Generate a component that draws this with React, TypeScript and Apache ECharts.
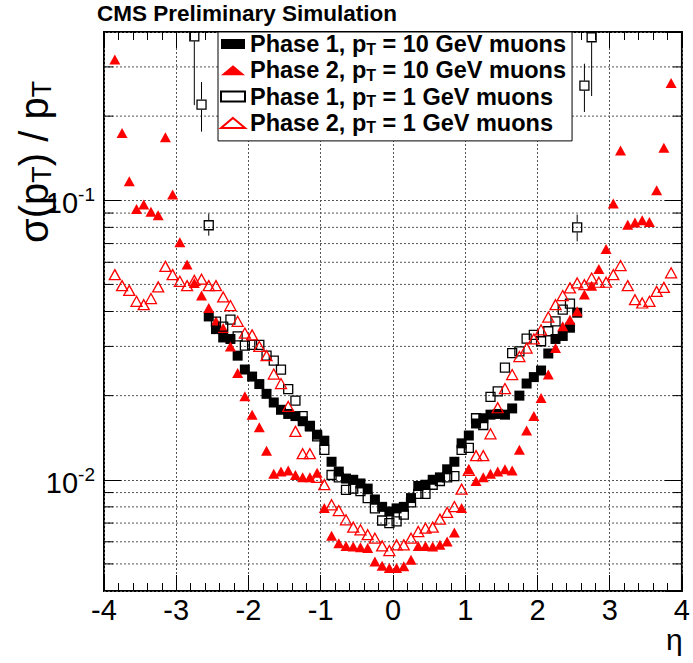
import { useEffect, useRef } from 'react';
import * as echarts from 'echarts';

const FONT = '"Liberation Sans", Arial, Helvetica, sans-serif';

// eta bin centres (wide range, used by Phase 2)
const ETA_WIDE = [
  -3.85, -3.75, -3.65, -3.55, -3.45, -3.35, -3.25, -3.15, -3.05,
  -2.95, -2.85, -2.75, -2.65, -2.55, -2.45, -2.35, -2.25, -2.15, -2.05,
  -1.95, -1.85, -1.75, -1.65, -1.55, -1.45, -1.35, -1.25, -1.15, -1.05,
  -0.95, -0.85, -0.75, -0.65, -0.55, -0.45, -0.35, -0.25, -0.15, -0.05,
  0.05, 0.15, 0.25, 0.35, 0.45, 0.55, 0.65, 0.75, 0.85, 0.95,
  1.05, 1.15, 1.25, 1.35, 1.45, 1.55, 1.65, 1.75, 1.85, 1.95,
  2.05, 2.15, 2.25, 2.35, 2.45, 2.55, 2.65, 2.75, 2.85, 2.95,
  3.05, 3.15, 3.25, 3.35, 3.45, 3.55, 3.65, 3.75, 3.85,
];
// Phase 1 eta ranges
const ETA_P1_10 = ETA_WIDE.slice(13, 65); // -2.55 .. 2.55
const ETA_P1_1 = ETA_WIDE.slice(11, 67); // -2.75 .. 2.75

const NAMES = [
  'Phase 1, p_T = 10 GeV muons',
  'Phase 2, p_T = 10 GeV muons',
  'Phase 1, p_T = 1 GeV muons',
  'Phase 2, p_T = 1 GeV muons',
];

const PHASE1_10 = [
  0.0384, 0.0346, 0.0323, 0.0319, 0.0278, 0.0248,
  0.0234, 0.0220, 0.0203, 0.0189, 0.0178, 0.0172, 0.0169, 0.0162, 0.0155, 0.0145,
  0.0138, 0.0116, 0.0107, 0.0101, 0.0100, 0.0097, 0.0093, 0.0085, 0.0080, 0.0077,
  0.0079, 0.0080, 0.0086, 0.0095, 0.0096, 0.0100, 0.0102, 0.0109, 0.0116, 0.0135,
  0.0144, 0.0159, 0.0166, 0.0171, 0.0172, 0.0171, 0.0180, 0.0200, 0.0221, 0.0233,
  0.0246, 0.0283, 0.0319, 0.0327, 0.0350, 0.0396,
];

const PHASE2_10 = [
  0.319, 0.174, 0.117, 0.0931, 0.0965, 0.0910, 0.0884, 0.168, 0.1048,
  0.0707, 0.0589, 0.0506, 0.0456, 0.0412, 0.0369, 0.0349, 0.0300, 0.0241, 0.0199,
  0.0171, 0.0154, 0.0127, 0.0105, 0.0107, 0.0108, 0.0104, 0.0102, 0.0102, 0.0106,
  0.00792, 0.0063, 0.00593, 0.0058, 0.00577, 0.00573, 0.0057, 0.0051, 0.00493, 0.00483,
  0.00483, 0.0049, 0.00517, 0.0058, 0.0058, 0.00577, 0.00585, 0.00601, 0.00648, 0.00792,
  0.0109, 0.0099, 0.0102, 0.0105, 0.0107, 0.0109, 0.0108, 0.0128, 0.0150, 0.0169,
  0.0196, 0.0238, 0.0296, 0.0354, 0.0374, 0.0401, 0.0460, 0.0495, 0.0568, 0.0670,
  0.0973, 0.1507, 0.0818, 0.0833, 0.0848, 0.0836, 0.1086, 0.154, 0.263,
];

const PHASE1_1 = [
  0.386, 0.220, 0.0814, 0.0368, 0.0353, 0.0374, 0.0326, 0.0302,
  0.0304, 0.0304, 0.0278, 0.0267, 0.0248, 0.0211, 0.0192, 0.0169, 0.0156, 0.0143,
  0.0128, 0.0104, 0.0102, 0.0092, 0.0093, 0.0091, 0.0086, 0.0079, 0.00715, 0.0070,
  0.0071, 0.0075, 0.0083, 0.0089, 0.0089, 0.0096, 0.0099, 0.0102, 0.0103, 0.0128,
  0.0130, 0.0166, 0.0157, 0.0198, 0.0207, 0.0252, 0.0284, 0.0288, 0.0320, 0.0330,
  0.0313, 0.0340, 0.0369, 0.0406, 0.0427, 0.080, 0.257, 0.383,
];

const PHASE2_1 = [
  0.0542, 0.0495, 0.0476, 0.0435, 0.0423, 0.0445, 0.0490, 0.0580, 0.0542,
  0.0513, 0.0495, 0.0517, 0.0522, 0.0495, 0.0495, 0.0451, 0.0420, 0.0369, 0.0335,
  0.0330, 0.0300, 0.0278, 0.0239, 0.0221, 0.0183, 0.0149, 0.0124, 0.0124, 0.0102,
  0.0096, 0.00814, 0.00776, 0.00719, 0.00677, 0.00662, 0.00636, 0.00618, 0.0058, 0.00558,
  0.00585, 0.00585, 0.00618, 0.00653, 0.00671, 0.00677, 0.00723, 0.00764, 0.00802, 0.00926,
  0.0108, 0.0122, 0.0122, 0.0146, 0.0181, 0.0212, 0.0238, 0.0276, 0.0296, 0.0319,
  0.0344, 0.0382, 0.0423, 0.0456, 0.0486, 0.0506, 0.0499, 0.0527, 0.0509, 0.0509,
  0.0542, 0.0584, 0.0495, 0.0441, 0.0429, 0.0435, 0.0472, 0.0488, 0.0550,
];

// Phase 1, 1 GeV points with visible error bars
const ERR_ETA = [-2.75, -2.65, -2.55, 2.55, 2.65, 2.75];
const ERR_VAL = [0.386, 0.220, 0.0814, 0.080, 0.257, 0.383];
const ERR_LO = [0.219, 0.176, 0.0747, 0.0713, 0.207, 0.236];
const ERR_HI = [0.6, 0.265, 0.0895, 0.0889, 0.308, 0.6];

// minor log grid lines / ticks
const MINOR_Y = [
  0.005, 0.006, 0.007, 0.008, 0.009,
  0.02, 0.03, 0.04, 0.05, 0.06, 0.07, 0.08, 0.09,
  0.2, 0.3,
];

const X_MIN = -4;
const X_MAX = 4;
const Y_MIN = 0.004;
const Y_MAX = 0.4;

const pairs = (xs: number[], ys: number[]) => xs.map((x, i) => [x, ys[i]]);

export default function App() {
  const ref = useRef<HTMLDivElement>(null);
  useEffect(() => {
    if (!ref.current) return;
    const chart = echarts.init(ref.current, null, { renderer: 'svg' });
    const dotted = { color: '#555', width: 1, type: [2, 2] as any };
    const tickStyle = { color: '#000', width: 1 };
    const xBase: any = {
      type: 'value', min: X_MIN, max: X_MAX, interval: 1, gridIndex: 0,
      axisLine: { show: false, onZero: false },
      axisTick: { show: true, inside: true, length: 16, lineStyle: tickStyle },
      minorTick: { show: true, splitNumber: 5, length: 8, lineStyle: tickStyle },
    };
    const yBase: any = {
      type: 'log', logBase: 10, min: Y_MIN, max: Y_MAX, gridIndex: 0,
      axisLine: { show: false, onZero: false },
      axisTick: { show: true, inside: true, length: 17, lineStyle: tickStyle },
      minorTick: { show: false },
    };
    const option: any = {
      animation: false,
      backgroundColor: '#fff',
      grid: {
        left: 104, right: 6, top: 32, bottom: 72, show: true,
        borderColor: '#000', borderWidth: 2, backgroundColor: 'transparent',
      },
      xAxis: [
        {
          ...xBase, position: 'bottom',
          axisLabel: { fontSize: 29, color: '#000', fontFamily: FONT, margin: 4 },
          splitLine: { show: true, lineStyle: dotted },
        },
        { ...xBase, position: 'top', axisLabel: { show: false }, splitLine: { show: false } },
      ],
      yAxis: [
        {
          ...yBase, position: 'left',
          axisLabel: {
            margin: 9, showMinLabel: false, showMaxLabel: false,
            formatter: (v: number) => {
              const l = Math.log10(v);
              const e = Math.round(l);
              if (Math.abs(l - e) > 0.01) return '';
              return `{b|10}{s|${e}}`;
            },
            rich: {
              b: { fontSize: 29, fontFamily: FONT, color: '#000', lineHeight: 30, padding: [6, 0, 0, 0] },
              s: { fontSize: 19, fontFamily: FONT, color: '#000', lineHeight: 19, verticalAlign: 'top' },
            },
          },
          splitLine: { show: true, lineStyle: dotted },
        },
        { ...yBase, position: 'right', axisLabel: { show: false }, splitLine: { show: false } },
      ],
      legend: {
        data: NAMES, orient: 'vertical', left: 218, top: 32,
        itemWidth: 24, itemHeight: 10, itemGap: 1.3,
        padding: [0, 6, 5, 2],
        backgroundColor: '#fff', borderColor: '#000', borderWidth: 1,
        selectedMode: false,
        formatter: (name: string) => `{n|${name.replace('p_T', 'p}{s|T}{n|')}}`,
        textStyle: {
          rich: {
            n: { fontSize: 23.5, fontWeight: 'bold', fontFamily: FONT, color: '#000', lineHeight: 26 },
            s: { fontSize: 16, fontWeight: 'bold', fontFamily: FONT, color: '#000', lineHeight: 12, verticalAlign: 'bottom' },
          },
        },
      },
      graphic: [
        {
          type: 'text', x: 97, y: 2,
          style: { text: 'CMS Preliminary Simulation', fontSize: 22.5, fontWeight: 'bold', fontFamily: FONT, fill: '#000' },
        },
        {
          type: 'text', x: 34, y: 243, rotation: Math.PI / 2,
          style: {
            text: '{m|σ(p}{s|T}{m|) / p}{s|T}',
            align: 'left', verticalAlign: 'middle',
            rich: {
              m: { fontSize: 40, fontFamily: FONT, fill: '#000', lineHeight: 42 },
              s: { fontSize: 27, fontFamily: FONT, fill: '#000', lineHeight: 24, verticalAlign: 'bottom' },
            },
          },
        },
        {
          type: 'text', x: 666, y: 624,
          style: { text: 'η', fontSize: 30, lineHeight: 30, fontFamily: FONT, fill: '#000' },
        },
      ],
      series: [
        {
          type: 'custom', name: 'minor-grid', silent: true, z: 1,
          data: MINOR_Y.map((v) => [0, v]),
          renderItem: (params: any, api: any) => {
            const y = api.coord([0, api.value(1)])[1];
            const cs = params.coordSys;
            return {
              type: 'group',
              children: [
                { type: 'line', shape: { x1: cs.x, y1: y, x2: cs.x + cs.width, y2: y }, style: { stroke: '#555', lineWidth: 1, lineDash: [2, 2] } },
                { type: 'line', shape: { x1: cs.x, y1: y, x2: cs.x + 9, y2: y }, style: { stroke: '#000', lineWidth: 1 } },
                { type: 'line', shape: { x1: cs.x + cs.width - 9, y1: y, x2: cs.x + cs.width, y2: y }, style: { stroke: '#000', lineWidth: 1 } },
              ],
            };
          },
        },
        {
          name: NAMES[0], type: 'scatter', data: pairs(ETA_P1_10, PHASE1_10),
          symbol: 'rect', symbolSize: 10, itemStyle: { color: '#000', opacity: 1 }, z: 3,
        },
        {
          name: NAMES[1], type: 'scatter', data: pairs(ETA_WIDE, PHASE2_10),
          symbol: 'triangle', symbolSize: [11, 10], itemStyle: { color: '#ff0000', opacity: 1 }, z: 4,
        },
        {
          name: NAMES[2], type: 'scatter', data: pairs(ETA_P1_1, PHASE1_1),
          symbol: 'rect', symbolSize: 9,
          itemStyle: { color: 'rgba(0,0,0,0)', borderColor: '#000', borderWidth: 1.3, opacity: 1 }, z: 5,
        },
        {
          name: NAMES[3], type: 'scatter', data: pairs(ETA_WIDE, PHASE2_1),
          symbol: 'triangle', symbolSize: [11, 10],
          itemStyle: { color: 'rgba(0,0,0,0)', borderColor: '#ff0000', borderWidth: 1.3, opacity: 1 }, z: 5,
        },
        {
          type: 'custom', name: 'errors', silent: true, z: 5, clip: true,
          data: ERR_ETA.map((e, i) => [e, ERR_VAL[i], ERR_LO[i], ERR_HI[i]]),
          renderItem: (params: any, api: any) => {
            const x = api.value(0);
            const c = api.coord([x, api.value(1)]);
            const lo = api.coord([x, api.value(2)]);
            const hi = api.coord([x, api.value(3)]);
            const top = Math.max(hi[1], params.coordSys.y);
            const h = 5;
            const st = { stroke: '#000', lineWidth: 1 };
            const kids: any[] = [];
            if (c[1] - h > top) kids.push({ type: 'line', shape: { x1: c[0], y1: top, x2: c[0], y2: c[1] - h }, style: st });
            kids.push({ type: 'line', shape: { x1: c[0], y1: c[1] + h, x2: c[0], y2: lo[1] }, style: st });
            return { type: 'group', children: kids };
          },
        },
      ],
    };
    chart.setOption(option);
    return () => chart.dispose();
  }, []);
  return <div ref={ref} style={{ position: 'absolute', left: 0, top: 0, width: 693, height: 663 }} />;
}
